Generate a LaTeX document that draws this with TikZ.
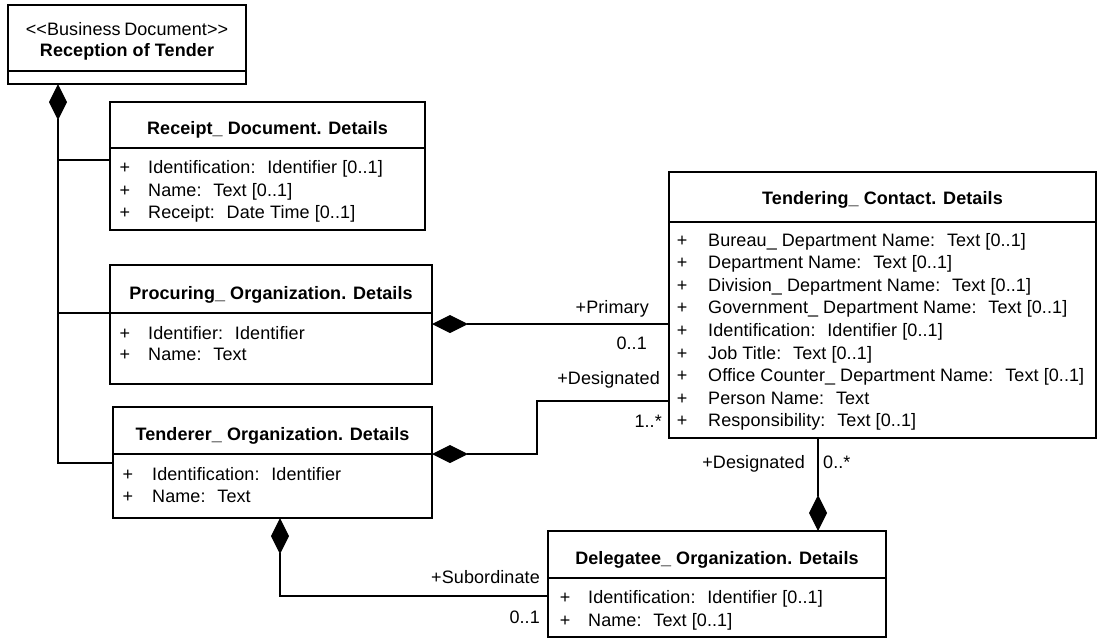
\documentclass[tikz,border=0pt]{standalone}
\usepackage{fontspec}
\setmainfont{Liberation Sans}[LetterSpace=0.5]
\usetikzlibrary{arrows.meta}

\tikzset{
  box/.style={draw, line width=1.3pt, anchor=north west, inner sep=0pt, outer sep=0pt},
  ttl/.style={font=\bfseries, anchor=base, inner sep=0pt},
  plus/.style={anchor=base, inner sep=0pt},
  attr/.style={anchor=base west, inner sep=0pt},
  lbl/.style={anchor=base east, inner sep=0pt},
  lblr/.style={anchor=base west, inner sep=0pt},
  conn/.style={line width=1.3pt},
  comp/.style={conn, {Diamond[length=36pt,width=18pt]}-},
}

\begin{document}
\fontsize{18pt}{21pt}\selectfont
\begin{tikzpicture}[x=1pt,y=-1pt]
\useasboundingbox (0,0) rectangle (1099,638);

% Business document root
\node[box, minimum width=238pt, minimum height=79pt] (doc) at (8,5) {};
\draw[conn] (doc.west |- 0,71) -- (doc.east |- 0,71);
\node[plus] (docst) at (127,35) {<\kern0pt<Business\kern-1.5pt\ Document>\kern0pt>};
\node[ttl] (doct) at (127,56) {Reception of Tender};

% Receipt_ Document. Details
\node[box, minimum width=315pt, minimum height=128pt] (rec) at (110,102) {};
\draw[conn] (rec.west |- 0,148) -- (rec.east |- 0,148);
\node[ttl] (rect) at (267.5,134) {Receipt\_ Document. Details};
\node[plus] (recp1) at (125,173) {+};
\node[attr] (reca1) at (148,173) {Identification:~ Identifier [0..1]};
\node[plus] (recp2) at (125,196) {+};
\node[attr] (reca2) at (148,196) {Name:~ Text [0..1]};
\node[plus] (recp3) at (125,218) {+};
\node[attr] (reca3) at (148,218) {Receipt:~ Date Time [0..1]};

% Procuring_ Organization. Details
\node[box, minimum width=322pt, minimum height=119pt] (pro) at (110,265) {};
\draw[conn] (pro.west |- 0,313) -- (pro.east |- 0,313);
\node[ttl] (prot) at (271,299) {Procuring\_ Organization. Details};
\node[plus] (prop1) at (125,339) {+};
\node[attr] (proa1) at (148,339) {Identifier:~ Identifier};
\node[plus] (prop2) at (125,360) {+};
\node[attr] (proa2) at (148,360) {Name:~ Text};

% Tenderer_ Organization. Details
\node[box, minimum width=319pt, minimum height=111pt] (ten) at (113,407) {};
\draw[conn] (ten.west |- 0,454) -- (ten.east |- 0,454);
\node[ttl] (tent) at (272.5,440) {Tenderer\_ Organization. Details};
\node[plus] (tenp1) at (128,480) {+};
\node[attr] (tena1) at (152,480) {Identification:~ Identifier};
\node[plus] (tenp2) at (128,502) {+};
\node[attr] (tena2) at (152,502) {Name:~ Text};

% Tendering_ Contact. Details
\node[box, minimum width=427pt, minimum height=266pt] (con) at (669,172) {};
\draw[conn] (con.west |- 0,222) -- (con.east |- 0,222);
\node[ttl] (cont) at (882.5,204) {Tendering\_ Contact. Details};
\foreach \i/\t in {0/{Bureau\_ Department Name:~ Text [0..1]},
                   1/{Department Name:~ Text [0..1]},
                   2/{Division\_ Department Name:~ Text [0..1]},
                   3/{Government\_ Department Name:~ Text [0..1]},
                   4/{Identification:~ Identifier [0..1]},
                   5/{Job Title:~ Text [0..1]},
                   6/{Office Counter\_ Department Name:~ Text [0..1]},
                   7/{Person Name:~ Text},
                   8/{Responsibility:~ Text [0..1]}} {
  \node[plus] (conp\i) at (682,246+22.6*\i) {+};
  \node[attr] (cona\i) at (708,246+22.6*\i) {\t};
}

% Delegatee_ Organization. Details
\node[box, minimum width=338pt, minimum height=106pt] (del) at (548,531) {};
\draw[conn] (del.west |- 0,578) -- (del.east |- 0,578);
\node[ttl] (delt) at (717,564) {Delegatee\_ Organization. Details};
\node[plus] (delp1) at (565,603) {+};
\node[attr] (dela1) at (588,603) {Identification:~ Identifier [0..1]};
\node[plus] (delp2) at (565,626) {+};
\node[attr] (dela2) at (588,626) {Name:~ Text [0..1]};

% Composition trunk from the business document
\coordinate (tk) at (58,463);
\coordinate (b1) at (58,160);
\coordinate (b2) at (58,313);
\draw[comp] (doc.south -| tk) -- (tk) -- (tk -| ten.west);
\draw[conn] (b1) -- (b1 -| rec.west);
\draw[conn] (b2) -- (b2 -| pro.west);

% Primary contact
\coordinate (pr) at (500,324);
\draw[comp] (pr -| pro.east) -- (pr -| con.west);
\node[lbl] (prl) at (649,313) {+Primary};
\node[lbl] (prm) at (647,349) {0..1};

% Designated contact of the tenderer
\coordinate (d1) at (537,454);
\coordinate (d2) at (537,401);
\draw[comp] (d1 -| ten.east) -- (d1) -- (d2) -- (d2 -| con.west);
\node[lbl] (dgl) at (660,384) {+Designated};
\node[lbl] (dgm) at (662,427) {1..*};

% Subordinate delegatee
\coordinate (s) at (280,596);
\draw[comp] (ten.south -| s) -- (s) -- (s -| del.west);
\node[lbl] (sbl) at (540,583) {+Subordinate};
\node[lbl] (sbm) at (540,623) {0..1};

% Designated contact of the delegatee
\coordinate (g) at (818,480);
\draw[comp] (del.north -| g) -- (con.south -| g);
\node[lbl] (gl) at (805,468) {+Designated};
\node[lblr] (gm) at (823,468) {0..*};
\end{tikzpicture}
\end{document}
